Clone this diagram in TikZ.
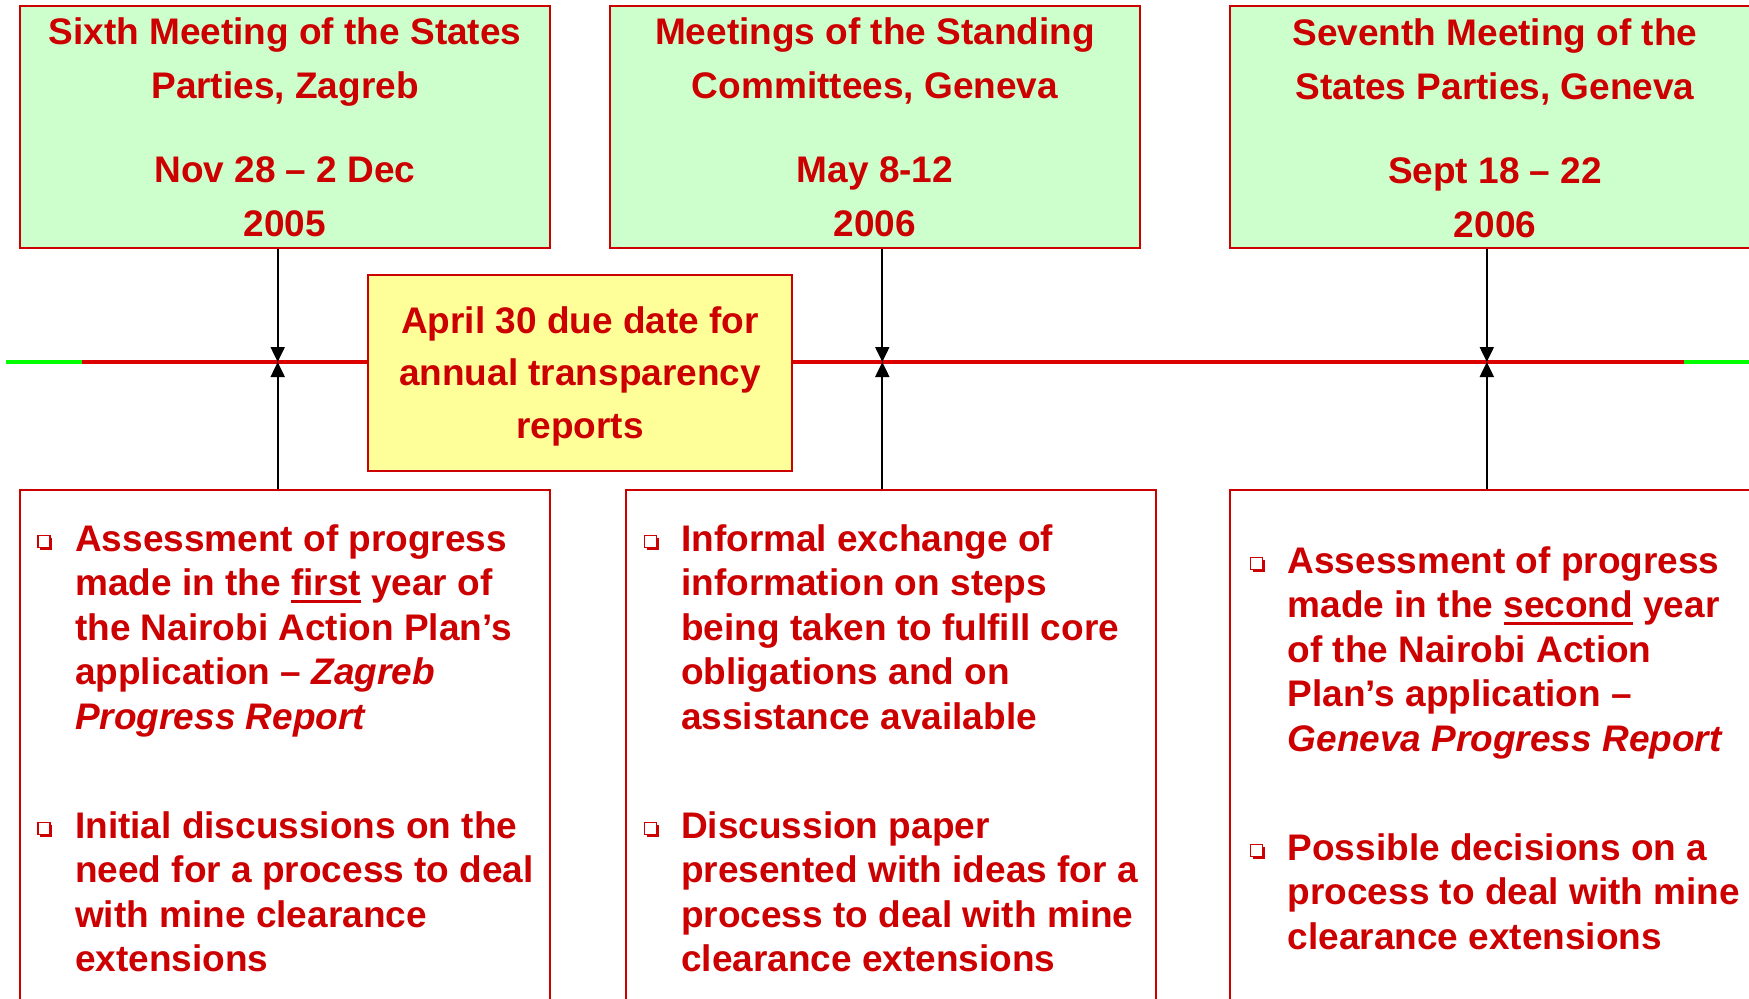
\documentclass[tikz,border=0pt]{standalone}
\usepackage{fontspec}
\setmainfont{Liberation Sans}
\usetikzlibrary{arrows.meta,shadows}
\definecolor{tred}{HTML}{CC0000}
\definecolor{lred}{HTML}{DD0000}
\definecolor{boxgreen}{HTML}{CCFFCC}
\definecolor{boxyellow}{HTML}{FFFF99}
\definecolor{lgreen}{HTML}{00FF00}
\newcommand\tstrut{\rule{0pt}{30pt}}
\newsavebox\ulbox
\newcommand\myul[1]{\sbox\ulbox{#1}\rlap{\rule[-7pt]{\wd\ulbox}{3pt}}\usebox\ulbox}
\begin{document}
\begin{tikzpicture}[x=1pt,y=-1pt,
  greenbox/.style={draw=tred, line width=2pt, fill=boxgreen, minimum width=530pt, minimum height=242pt, inner sep=0pt},
  wbox/.style={draw=tred, line width=2pt, fill=white, minimum width=530pt, minimum height=540pt, inner sep=0pt},
  ybox/.style={draw=tred, line width=2pt, fill=boxyellow, minimum width=424pt, minimum height=196pt, inner sep=0pt},
  txt/.style={text=tred, font=\fontsize{37}{44.5}\selectfont\bfseries, inner sep=0pt, align=left, anchor=north west},
  htxt/.style={text=tred, font=\fontsize{37}{54}\selectfont\bfseries, inner sep=0pt, align=center, anchor=north},
  ytxt/.style={text=tred, font=\fontsize{37}{52.5}\selectfont\bfseries, inner sep=0pt, align=center, anchor=north},
  arr/.style={draw=black, line width=2pt, -{Triangle[length=15pt,width=14pt]}},
  bsq/.style={draw=tred, line width=1.3pt, fill=white, minimum size=12pt, inner sep=0pt,
    drop shadow={shadow xshift=2pt, shadow yshift=-2pt, fill=tred, opacity=1}},
  gline/.style={draw=lgreen, line width=4pt},
  rline/.style={draw=lred, line width=3.5pt}]
\useasboundingbox (0,0) rectangle (1749,999);
\clip (0,0) rectangle (1749,999);

% timeline
\coordinate (g0) at (6,362);
\coordinate (r0) at (81.7,362);
\coordinate (r1) at (1684,362);
\coordinate (g1) at (1749,362);
\draw[gline] (g0) -- (r0);
\draw[rline] (r0) -- (r1);
\draw[gline] (r1) -- (g1);

% top boxes
\node[greenbox] (m1) at (285,127) {};
\node[greenbox] (m2) at (875,127) {};
\node[greenbox] (m3) at (1495,127) {};
\node[htxt] (m1t) at (285,14.5) {\tstrut Sixth Meeting of the States\\ Parties, Zagreb\\[30pt] Nov 28 – 2 Dec\\ 2005};
\node[htxt] (m2t) at (875,14.5) {\tstrut Meetings of the Standing\\ Committees, Geneva\\[30pt] May 8-12\\ 2006};
\node[htxt] (m3t) at (1495,15.5) {\tstrut Seventh Meeting of the\\ States Parties, Geneva\\[30pt] Sept 18 – 22\\ 2006};

% yellow box
\node[ybox] (y1) at (580,372.5) {};
\node[ytxt] (y1t) at (580,303) {\tstrut April 30 due date for\\ annual transparency\\ reports};

% bottom boxes
\node[wbox] (b1) at (285,760) {};
\node[wbox] (b2) at (891,760) {};
\node[wbox] (b3) at (1495,760) {};

% connectors
\coordinate (c1) at (277.7,362);
\coordinate (c2) at (882.3,362);
\coordinate (c3) at (1486.8,362);
\draw[arr] (m1.south -| c1) -- (c1);
\draw[arr] (m2.south -| c2) -- (c2);
\draw[arr] (m3.south -| c3) -- (c3);
\draw[arr] (b1.north -| c1) -- (c1);
\draw[arr] (b2.north -| c2) -- (c2);
\draw[arr] (b3.north -| c3) -- (c3);

% bullets
\node[bsq] (q11) at (44,541.5) {};
\node[bsq] (q12) at (44,828.5) {};
\node[bsq] (q21) at (650.5,541.5) {};
\node[bsq] (q22) at (650.5,828.5) {};
\node[bsq] (q31) at (1256.5,563.5) {};
\node[bsq] (q32) at (1256.5,850.5) {};

% bullet texts
\node[txt] (b1a) at (75,521) {\tstrut Assessment of progress\\ made in the \myul{first} year of\\ the Nairobi Action Plan’s\\ application – \textit{Zagreb}\\ \textit{Progress Report}};
\node[txt] (b1b) at (75,808) {\tstrut Initial discussions on the\\ need for a process to deal\\ with mine clearance\\ extensions};
\node[txt] (b2a) at (681,521) {\tstrut Informal exchange of\\ information on steps\\ being taken to fulfill core\\ obligations and on\\ assistance available};
\node[txt] (b2b) at (681,808) {\tstrut Discussion paper\\ presented with ideas for a\\ process to deal with mine\\ clearance extensions};
\node[txt] (b3a) at (1287.5,543) {\tstrut Assessment of progress\\ made in the \myul{second} year\\ of the Nairobi Action\\ Plan’s application –\\ \textit{Geneva Progress Report}};
\node[txt] (b3b) at (1287.5,830) {\tstrut Possible decisions on a\\ process to deal with mine\\ clearance extensions};
\end{tikzpicture}
\end{document}
